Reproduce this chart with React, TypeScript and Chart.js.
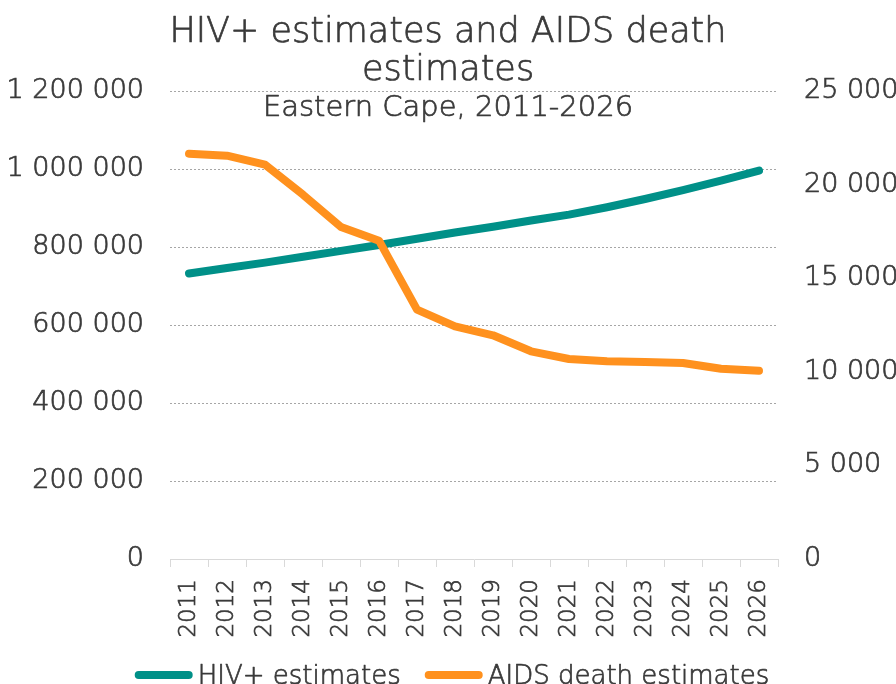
import React, { useEffect, useRef } from "react";
import { Chart, registerables } from "chart.js";

Chart.register(...registerables);

const years = [
  "2011", "2012", "2013", "2014", "2015", "2016", "2017", "2018",
  "2019", "2020", "2021", "2022", "2023", "2024", "2025", "2026",
];

const hivEstimates = [
  732000, 746000, 760000, 775000, 790000, 805000, 821000, 837000,
  852000, 868000, 883000, 902000, 923000, 946000, 970000, 996000,
];

const aidsDeathEstimates = [
  21650, 21545, 21064, 19461, 17735, 17004, 13318, 12430,
  11950, 11095, 10684, 10561, 10524, 10470, 10166, 10059,
];

const seriesNames = ["HIV+ estimates", "AIDS death estimates"];
const titleLines = ["HIV+ estimates and AIDS death", "estimates"];
const subtitleText = "Eastern Cape, 2011-2026";

const TEAL = "#009088";
const ORANGE = "#FF911E";
const TEXT = "#3a3a3a";
const FONT = '"DejaVu Sans", sans-serif';
const WEIGHT = "200";
// a thin outline thickens the extra-light face slightly
const STROKE = 0.7;

const spaced = (v: number | string) =>
  String(v).replace(/\B(?=(\d{3})+(?!\d))/g, " ");

const drawText = (
  ctx: CanvasRenderingContext2D,
  text: string,
  x: number,
  y: number
) => {
  ctx.fillText(text, x, y);
  ctx.strokeText(text, x, y);
};

// Title and subtitle sit over the top of the plot area
const titleBlock = {
  id: "titleBlock",
  afterDraw(chart: Chart) {
    const { ctx, width } = chart;
    ctx.save();
    ctx.fillStyle = TEXT;
    ctx.strokeStyle = TEXT;
    ctx.lineWidth = STROKE;
    ctx.lineJoin = "round";
    ctx.textAlign = "center";
    ctx.textBaseline = "alphabetic";
    ctx.font = `${WEIGHT} 35px ${FONT}`;
    drawText(ctx, titleLines[0], width / 2, 42);
    drawText(ctx, titleLines[1], width / 2, 80);
    ctx.font = `${WEIGHT} 29px ${FONT}`;
    drawText(ctx, subtitleText, width / 2, 116);
    ctx.restore();
  },
};

// Legend row along the bottom: a thick round-capped line swatch, then the series name
const lineLegend = {
  id: "lineLegend",
  afterDraw(chart: Chart) {
    const { ctx, width } = chart;
    const swatch = 58;
    const gap = 5;
    const itemGap = 24;
    const baseline = 684;
    ctx.save();
    ctx.font = `${WEIGHT} 26px ${FONT}`;
    const items = chart.data.datasets.map((ds: any) => ({
      label: ds.label as string,
      color: ds.borderColor as string,
      w: ctx.measureText(ds.label).width,
    }));
    const total =
      items.reduce((s, it) => s + swatch + gap + it.w, 0) +
      itemGap * (items.length - 1);
    let x = width / 2 + 4 - total / 2;
    items.forEach((it) => {
      ctx.strokeStyle = it.color;
      ctx.lineWidth = 8;
      ctx.lineCap = "round";
      ctx.beginPath();
      ctx.moveTo(x + 4, 675);
      ctx.lineTo(x + swatch - 4, 675);
      ctx.stroke();
      ctx.fillStyle = TEXT;
      ctx.strokeStyle = TEXT;
      ctx.lineWidth = STROKE;
      ctx.lineCap = "butt";
      ctx.lineJoin = "round";
      ctx.textAlign = "left";
      ctx.textBaseline = "alphabetic";
      drawText(ctx, it.label, x + swatch + gap, baseline);
      x += swatch + gap + it.w + itemGap;
    });
    ctx.restore();
  },
};

const tickText = {
  color: TEXT,
  textStrokeColor: TEXT,
  textStrokeWidth: STROKE,
};

export default function App() {
  const ref = useRef<HTMLCanvasElement | null>(null);

  useEffect(() => {
    if (!ref.current) return;
    const chart = new Chart(ref.current, {
      type: "line",
      data: {
        labels: years,
        datasets: [
          {
            label: seriesNames[0],
            data: hivEstimates,
            yAxisID: "y",
            borderColor: TEAL,
            backgroundColor: TEAL,
            borderWidth: 8,
            borderCapStyle: "round",
            borderJoinStyle: "round",
            pointRadius: 0,
            tension: 0,
            order: 1,
          },
          {
            label: seriesNames[1],
            data: aidsDeathEstimates,
            yAxisID: "y1",
            borderColor: ORANGE,
            backgroundColor: ORANGE,
            borderWidth: 8,
            borderCapStyle: "round",
            borderJoinStyle: "round",
            pointRadius: 0,
            tension: 0,
            order: 0,
          },
        ],
      },
      options: {
        animation: false,
        responsive: true,
        maintainAspectRatio: false,
        layout: { padding: { top: 91, left: 0, right: 0, bottom: 0 } },
        plugins: {
          title: { display: false },
          tooltip: { enabled: false },
          legend: { display: false },
        },
        scales: {
          x: {
            type: "category",
            offset: true,
            grid: {
              display: true,
              offset: true,
              drawOnChartArea: false,
              drawTicks: true,
              tickLength: 8,
              color: "#d9d9d9",
            },
            border: { display: true, color: "#d9d9d9" },
            ticks: {
              autoSkip: false,
              minRotation: 90,
              maxRotation: 90,
              padding: 12,
              ...tickText,
              font: { family: FONT, size: 23, weight: WEIGHT },
            },
            afterFit: (s: any) => {
              s.height = 125;
            },
          },
          y: {
            position: "left",
            min: 0,
            max: 1200000,
            ticks: {
              stepSize: 200000,
              padding: 26,
              ...tickText,
              font: { family: FONT, size: 27, weight: WEIGHT },
              callback: (v: any) => spaced(v),
            },
            grid: {
              drawTicks: false,
              lineWidth: 1,
              color: (ctx: any) =>
                ctx.tick && ctx.tick.value === 0 ? "rgba(0,0,0,0)" : "#a6a6a6",
            },
            border: { display: false, dash: [2, 2] },
            afterFit: (s: any) => {
              s.width = 170;
            },
          },
          y1: {
            position: "right",
            min: 0,
            max: 25000,
            ticks: {
              stepSize: 5000,
              padding: 26,
              ...tickText,
              font: { family: FONT, size: 27, weight: WEIGHT },
              callback: (v: any) => spaced(v),
            },
            grid: { display: false, drawTicks: false },
            border: { display: false },
            afterFit: (s: any) => {
              s.width = 118;
            },
          },
        },
      },
      plugins: [titleBlock, lineLegend],
    });
    return () => chart.destroy();
  }, []);

  return (
    <div
      style={{
        position: "absolute",
        left: 0,
        top: 0,
        width: 896,
        height: 684,
        background: "#ffffff",
      }}
    >
      <canvas ref={ref} />
    </div>
  );
}
